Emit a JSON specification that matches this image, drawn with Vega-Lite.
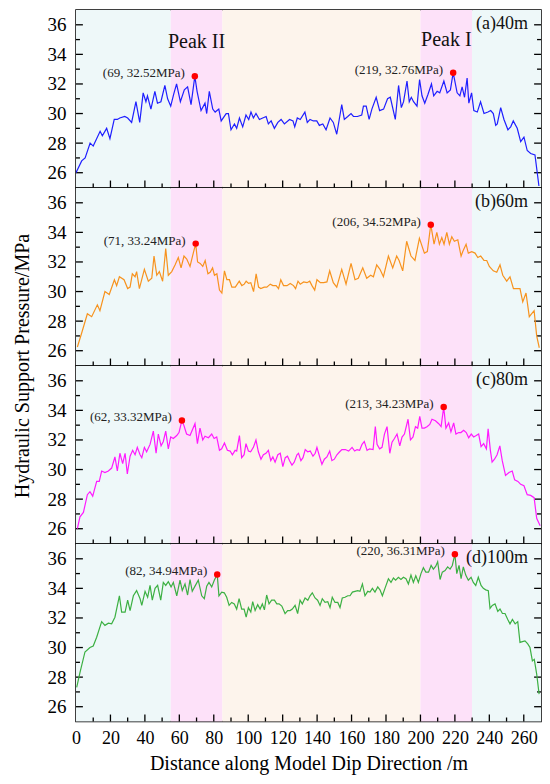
{
  "$schema": "https://vega.github.io/schema/vega-lite/v6.json",
  "background": "#ffffff",
  "padding": {"left": 11, "top": 9, "right": 0, "bottom": 0},
  "spacing": 0,
  "bounds": "flush",
  "datasets": {
    "bands": [
      {"x0": 0, "x1": 55, "zone": "side"},
      {"x0": 55, "x1": 85, "zone": "peak"},
      {"x0": 85, "x1": 200, "zone": "middle"},
      {"x0": 200, "x1": 230, "zone": "peak"},
      {"x0": 230, "x1": 270, "zone": "side"}
    ],
    "ymajor": [{"v": 26}, {"v": 28}, {"v": 30}, {"v": 32}, {"v": 34}, {"v": 36}],
    "yminor": [{"v": 27}, {"v": 29}, {"v": 31}, {"v": 33}, {"v": 35}],
    "xmajor": [{"v": 20}, {"v": 40}, {"v": 60}, {"v": 80}, {"v": 100}, {"v": 120}, {"v": 140}, {"v": 160}, {"v": 180}, {"v": 200}, {"v": 220}, {"v": 240}, {"v": 260}],
    "xminor": [{"v": 10}, {"v": 30}, {"v": 50}, {"v": 70}, {"v": 90}, {"v": 110}, {"v": 130}, {"v": 150}, {"v": 170}, {"v": 190}, {"v": 210}, {"v": 230}, {"v": 250}],
    "a": [
      {"x": 0, "p": 26.0}, {"x": 3.3, "p": 26.8}, {"x": 5.3, "p": 27.0}, {"x": 8.2, "p": 28.0}, {"x": 10, "p": 27.8},
      {"x": 14, "p": 28.8}, {"x": 15.3, "p": 28.5}, {"x": 17.8, "p": 29.0}, {"x": 19.7, "p": 28.3}, {"x": 22.2, "p": 29.6},
      {"x": 24, "p": 29.6}, {"x": 25.4, "p": 29.7}, {"x": 28.3, "p": 29.8}, {"x": 30, "p": 29.7}, {"x": 32.3, "p": 29.4},
      {"x": 34.8, "p": 30.8}, {"x": 37, "p": 29.4}, {"x": 39, "p": 31.4}, {"x": 40.6, "p": 30.8}, {"x": 41.5, "p": 31.2},
      {"x": 43.5, "p": 30.3}, {"x": 45.8, "p": 31.5}, {"x": 47.3, "p": 30.7}, {"x": 49.3, "p": 30.8}, {"x": 51.6, "p": 31.9},
      {"x": 53.2, "p": 31.0}, {"x": 55, "p": 30.5}, {"x": 56.7, "p": 31.3}, {"x": 58.4, "p": 32.0}, {"x": 60.6, "p": 30.8},
      {"x": 62.9, "p": 31.6}, {"x": 64.8, "p": 31.8}, {"x": 66.8, "p": 30.6}, {"x": 69, "p": 32.52}, {"x": 70.3, "p": 31.5},
      {"x": 72.6, "p": 30.2}, {"x": 74.9, "p": 30.7}, {"x": 75.9, "p": 30.0}, {"x": 77.4, "p": 31.5}, {"x": 79.4, "p": 30.3},
      {"x": 80.8, "p": 30.1}, {"x": 82.9, "p": 30.3}, {"x": 84.3, "p": 29.5}, {"x": 87.2, "p": 30.0}, {"x": 88.5, "p": 30.0},
      {"x": 90, "p": 28.9}, {"x": 92, "p": 29.3}, {"x": 93.3, "p": 29.0}, {"x": 94.9, "p": 29.7}, {"x": 96.8, "p": 29.1},
      {"x": 98.7, "p": 29.9}, {"x": 100.3, "p": 29.6}, {"x": 101.6, "p": 30.1}, {"x": 103, "p": 29.7}, {"x": 104.5, "p": 30.0},
      {"x": 106.5, "p": 29.6}, {"x": 108.4, "p": 29.7}, {"x": 110.4, "p": 29.8}, {"x": 111.7, "p": 29.3}, {"x": 113.3, "p": 29.5},
      {"x": 115.2, "p": 29.0}, {"x": 117.2, "p": 29.4}, {"x": 119.1, "p": 29.6}, {"x": 121, "p": 29.3}, {"x": 124, "p": 29.6},
      {"x": 126, "p": 29.5}, {"x": 127, "p": 29.1}, {"x": 128.5, "p": 29.7}, {"x": 130.2, "p": 29.6}, {"x": 132.9, "p": 30.1},
      {"x": 134.3, "p": 29.4}, {"x": 135.9, "p": 29.6}, {"x": 137.8, "p": 29.5}, {"x": 139.8, "p": 29.5}, {"x": 141.3, "p": 29.2},
      {"x": 143.3, "p": 29.3}, {"x": 145.2, "p": 28.9}, {"x": 147.5, "p": 29.7}, {"x": 149.4, "p": 29.4}, {"x": 151.4, "p": 28.6},
      {"x": 154.3, "p": 30.6}, {"x": 155.8, "p": 29.6}, {"x": 157.8, "p": 29.8}, {"x": 159.7, "p": 30.0}, {"x": 161.1, "p": 29.8},
      {"x": 163.4, "p": 29.8}, {"x": 165.9, "p": 29.9}, {"x": 166.9, "p": 30.5}, {"x": 168.5, "p": 30.5}, {"x": 170.2, "p": 29.6},
      {"x": 171.8, "p": 30.3}, {"x": 174.3, "p": 31.1}, {"x": 176.3, "p": 30.2}, {"x": 178.6, "p": 30.3}, {"x": 180.9, "p": 31.0},
      {"x": 182.5, "p": 31.1}, {"x": 185.4, "p": 29.6}, {"x": 187.3, "p": 31.9}, {"x": 188.9, "p": 30.4}, {"x": 190.2, "p": 30.8},
      {"x": 192.2, "p": 32.2}, {"x": 193.5, "p": 30.8}, {"x": 194.7, "p": 31.1}, {"x": 196, "p": 30.8}, {"x": 198, "p": 30.5},
      {"x": 199.5, "p": 32.3}, {"x": 200.9, "p": 31.2}, {"x": 202.5, "p": 30.7}, {"x": 204.4, "p": 31.3}, {"x": 206.4, "p": 32.0},
      {"x": 207.7, "p": 31.2}, {"x": 209.7, "p": 31.5}, {"x": 211.2, "p": 31.4}, {"x": 213.6, "p": 32.2}, {"x": 215.5, "p": 31.4},
      {"x": 217.4, "p": 31.6}, {"x": 219, "p": 32.76}, {"x": 221.3, "p": 31.4}, {"x": 222.9, "p": 31.2}, {"x": 224.2, "p": 31.8},
      {"x": 225.6, "p": 31.1}, {"x": 227.1, "p": 32.4}, {"x": 228.1, "p": 30.7}, {"x": 229.7, "p": 31.4}, {"x": 231, "p": 30.2},
      {"x": 233, "p": 30.1}, {"x": 234.9, "p": 30.8}, {"x": 236.9, "p": 30.0}, {"x": 239.2, "p": 30.1}, {"x": 240.8, "p": 30.2},
      {"x": 242.3, "p": 30.0}, {"x": 243.7, "p": 29.2}, {"x": 244.6, "p": 29.3}, {"x": 246.6, "p": 30.4}, {"x": 248.5, "p": 29.6},
      {"x": 250.8, "p": 28.9}, {"x": 252.4, "p": 29.1}, {"x": 253.9, "p": 29.5}, {"x": 256.2, "p": 29.0}, {"x": 258.2, "p": 28.1},
      {"x": 260.1, "p": 28.4}, {"x": 262, "p": 27.5}, {"x": 264, "p": 27.3}, {"x": 266.5, "p": 27.2}, {"x": 268.8, "p": 25.1}
    ],
    "b": [
      {"x": 0.8, "p": 26.25}, {"x": 3.3, "p": 27.2}, {"x": 6.6, "p": 28.5}, {"x": 9.1, "p": 28.3}, {"x": 12.4, "p": 29.1},
      {"x": 13.9, "p": 28.7}, {"x": 16.8, "p": 30.0}, {"x": 19.3, "p": 29.8}, {"x": 22.3, "p": 30.8}, {"x": 23.6, "p": 30.4},
      {"x": 25.2, "p": 31.0}, {"x": 27.9, "p": 30.8}, {"x": 30, "p": 30.2}, {"x": 31.4, "p": 30.3}, {"x": 32.7, "p": 31.2},
      {"x": 34.3, "p": 31.0}, {"x": 35.2, "p": 31.35}, {"x": 36.8, "p": 30.2}, {"x": 39.7, "p": 31.5}, {"x": 42, "p": 30.7},
      {"x": 44, "p": 30.9}, {"x": 45.3, "p": 32.4}, {"x": 46.9, "p": 31.1}, {"x": 48.4, "p": 31.35}, {"x": 50.3, "p": 30.7},
      {"x": 52.1, "p": 32.9}, {"x": 53.6, "p": 31.1}, {"x": 55.6, "p": 31.35}, {"x": 57.5, "p": 31.8}, {"x": 59.4, "p": 32.3},
      {"x": 61, "p": 31.6}, {"x": 62.7, "p": 32.4}, {"x": 64.3, "p": 32.2}, {"x": 66.2, "p": 31.7}, {"x": 68.1, "p": 32.6},
      {"x": 69.5, "p": 33.24}, {"x": 70.6, "p": 32.0}, {"x": 72.1, "p": 31.9}, {"x": 73.6, "p": 31.7}, {"x": 75, "p": 32.1},
      {"x": 76.6, "p": 31.2}, {"x": 77.9, "p": 31.3}, {"x": 79.3, "p": 31.6}, {"x": 80.4, "p": 31.1}, {"x": 81.8, "p": 31.2},
      {"x": 83.3, "p": 30.1}, {"x": 84.7, "p": 29.9}, {"x": 86.2, "p": 31.4}, {"x": 87.6, "p": 30.8}, {"x": 89.1, "p": 30.8},
      {"x": 90.5, "p": 30.3}, {"x": 92.5, "p": 30.3}, {"x": 94.8, "p": 30.7}, {"x": 96.3, "p": 30.4}, {"x": 97.7, "p": 30.5},
      {"x": 98.8, "p": 30.7}, {"x": 100.2, "p": 30.55}, {"x": 101.5, "p": 30.6}, {"x": 103.1, "p": 30.0}, {"x": 104.6, "p": 31.2},
      {"x": 106, "p": 30.3}, {"x": 107.3, "p": 30.2}, {"x": 109.3, "p": 30.3}, {"x": 110.8, "p": 30.3}, {"x": 112.8, "p": 30.5},
      {"x": 114.3, "p": 30.4}, {"x": 116.2, "p": 30.4}, {"x": 117.6, "p": 30.2}, {"x": 118.9, "p": 30.8}, {"x": 120.5, "p": 30.4},
      {"x": 122.5, "p": 30.4}, {"x": 124.4, "p": 30.55}, {"x": 126.3, "p": 30.4}, {"x": 127.5, "p": 30.2}, {"x": 128.9, "p": 30.7},
      {"x": 130.2, "p": 30.5}, {"x": 132.2, "p": 30.65}, {"x": 134.1, "p": 30.6}, {"x": 135.7, "p": 30.7}, {"x": 137, "p": 30.4},
      {"x": 138.6, "p": 30.1}, {"x": 139.9, "p": 30.8}, {"x": 141.9, "p": 30.6}, {"x": 143.8, "p": 30.6}, {"x": 145.7, "p": 30.65},
      {"x": 147.3, "p": 31.4}, {"x": 149.4, "p": 30.6}, {"x": 151.4, "p": 30.3}, {"x": 154.3, "p": 31.5}, {"x": 156.8, "p": 30.5},
      {"x": 159.7, "p": 31.9}, {"x": 162, "p": 30.8}, {"x": 163.9, "p": 30.9}, {"x": 166.5, "p": 31.6}, {"x": 168.8, "p": 30.9},
      {"x": 171.1, "p": 31.1}, {"x": 172.7, "p": 31.0}, {"x": 174.6, "p": 31.8}, {"x": 176.5, "p": 31.5}, {"x": 178.5, "p": 31.0},
      {"x": 181.4, "p": 32.4}, {"x": 183.9, "p": 31.6}, {"x": 186.2, "p": 32.4}, {"x": 187.6, "p": 32.1}, {"x": 189.7, "p": 31.4},
      {"x": 192, "p": 33.4}, {"x": 194.5, "p": 32.4}, {"x": 196.8, "p": 32.1}, {"x": 199.4, "p": 33.6}, {"x": 202.3, "p": 32.6},
      {"x": 204, "p": 32.7}, {"x": 206, "p": 34.52}, {"x": 207.9, "p": 33.2}, {"x": 209.5, "p": 34.0}, {"x": 211, "p": 33.2},
      {"x": 212.4, "p": 33.65}, {"x": 213.7, "p": 33.2}, {"x": 215.3, "p": 34.0}, {"x": 216.8, "p": 33.2}, {"x": 218.2, "p": 33.7},
      {"x": 219.7, "p": 33.4}, {"x": 221.7, "p": 33.5}, {"x": 223.6, "p": 32.4}, {"x": 224.9, "p": 32.8}, {"x": 226.5, "p": 33.2},
      {"x": 227.8, "p": 32.6}, {"x": 229.8, "p": 32.7}, {"x": 231.7, "p": 32.6}, {"x": 233.3, "p": 32.3}, {"x": 235, "p": 32.4},
      {"x": 236.9, "p": 32.1}, {"x": 238.5, "p": 32.1}, {"x": 240, "p": 31.7}, {"x": 242.3, "p": 31.4}, {"x": 244.3, "p": 31.3},
      {"x": 246.2, "p": 31.8}, {"x": 247.8, "p": 31.1}, {"x": 250.1, "p": 30.7}, {"x": 252, "p": 31.0}, {"x": 254, "p": 30.2},
      {"x": 255.9, "p": 30.2}, {"x": 257.8, "p": 30.2}, {"x": 259.4, "p": 29.3}, {"x": 261.3, "p": 29.9}, {"x": 263.2, "p": 28.3},
      {"x": 264.6, "p": 28.5}, {"x": 266, "p": 28.7}, {"x": 267.5, "p": 27.0}, {"x": 269, "p": 26.2}
    ],
    "c": [
      {"x": 0.8, "p": 26.0}, {"x": 2.3, "p": 26.8}, {"x": 4.3, "p": 27.1}, {"x": 6.6, "p": 28.3}, {"x": 8.1, "p": 28.5},
      {"x": 9.7, "p": 28.2}, {"x": 12, "p": 29.2}, {"x": 13.5, "p": 29.2}, {"x": 14.9, "p": 29.9}, {"x": 16.8, "p": 29.8},
      {"x": 18.8, "p": 29.9}, {"x": 20.7, "p": 30.1}, {"x": 22.6, "p": 30.85}, {"x": 24, "p": 29.9}, {"x": 25.5, "p": 31.1},
      {"x": 27.1, "p": 30.4}, {"x": 28.5, "p": 31.1}, {"x": 29.8, "p": 29.7}, {"x": 31.4, "p": 30.9}, {"x": 32.9, "p": 31.3},
      {"x": 34.3, "p": 31.0}, {"x": 35.6, "p": 31.5}, {"x": 37.2, "p": 31.0}, {"x": 38.2, "p": 30.8}, {"x": 39.7, "p": 31.5},
      {"x": 41, "p": 31.2}, {"x": 43, "p": 31.7}, {"x": 44.9, "p": 32.6}, {"x": 46.5, "p": 31.1}, {"x": 47.8, "p": 32.4},
      {"x": 49.4, "p": 31.6}, {"x": 50.7, "p": 31.9}, {"x": 52.1, "p": 32.6}, {"x": 53.6, "p": 31.4}, {"x": 55, "p": 32.2},
      {"x": 56.5, "p": 32.1}, {"x": 58.5, "p": 32.3}, {"x": 59.8, "p": 32.5}, {"x": 61.5, "p": 33.32}, {"x": 62.6, "p": 33.0},
      {"x": 64.2, "p": 32.4}, {"x": 66.2, "p": 32.3}, {"x": 69.1, "p": 33.1}, {"x": 70.5, "p": 31.75}, {"x": 72, "p": 32.8},
      {"x": 73.6, "p": 32.0}, {"x": 74.9, "p": 32.25}, {"x": 76.9, "p": 32.15}, {"x": 78.8, "p": 32.4}, {"x": 80.2, "p": 32.1},
      {"x": 81.7, "p": 32.2}, {"x": 83.3, "p": 31.3}, {"x": 84.6, "p": 31.4}, {"x": 86.2, "p": 31.8}, {"x": 87.9, "p": 31.3},
      {"x": 89.5, "p": 31.25}, {"x": 90.8, "p": 31.0}, {"x": 92.4, "p": 31.3}, {"x": 93.3, "p": 31.25}, {"x": 94.9, "p": 32.3},
      {"x": 96.2, "p": 30.8}, {"x": 97.6, "p": 31.0}, {"x": 98.7, "p": 31.75}, {"x": 100.1, "p": 31.25}, {"x": 101.4, "p": 31.2},
      {"x": 103, "p": 31.5}, {"x": 104.5, "p": 32.0}, {"x": 105.9, "p": 31.2}, {"x": 107.4, "p": 30.7}, {"x": 108.8, "p": 31.0},
      {"x": 110.3, "p": 31.1}, {"x": 111.7, "p": 31.3}, {"x": 113.1, "p": 30.6}, {"x": 114.3, "p": 30.85}, {"x": 115.6, "p": 30.5},
      {"x": 117.2, "p": 31.0}, {"x": 118.6, "p": 31.1}, {"x": 120.1, "p": 30.2}, {"x": 121.5, "p": 30.8}, {"x": 122.8, "p": 30.9},
      {"x": 124, "p": 30.6}, {"x": 125.4, "p": 30.3}, {"x": 126.7, "p": 30.5}, {"x": 128.3, "p": 31.0}, {"x": 129.2, "p": 31.1},
      {"x": 130.6, "p": 30.6}, {"x": 131.8, "p": 30.8}, {"x": 133.1, "p": 31.35}, {"x": 134.5, "p": 31.2}, {"x": 136, "p": 31.25},
      {"x": 137.6, "p": 30.9}, {"x": 138.9, "p": 31.1}, {"x": 139.9, "p": 31.5}, {"x": 141.5, "p": 30.85}, {"x": 142.8, "p": 30.35},
      {"x": 144.2, "p": 30.7}, {"x": 145.7, "p": 30.85}, {"x": 147.3, "p": 31.25}, {"x": 148.6, "p": 30.6}, {"x": 150, "p": 30.7},
      {"x": 151.5, "p": 31.0}, {"x": 153.1, "p": 31.2}, {"x": 154.4, "p": 31.35}, {"x": 156.4, "p": 31.35}, {"x": 158.3, "p": 31.25},
      {"x": 160.3, "p": 31.5}, {"x": 161.8, "p": 31.25}, {"x": 163.2, "p": 31.35}, {"x": 164.7, "p": 31.3}, {"x": 166.1, "p": 31.7},
      {"x": 167.4, "p": 31.9}, {"x": 169, "p": 31.3}, {"x": 170.5, "p": 31.4}, {"x": 172.5, "p": 31.35}, {"x": 173.8, "p": 32.9},
      {"x": 174.8, "p": 31.7}, {"x": 176.3, "p": 31.4}, {"x": 177.7, "p": 31.5}, {"x": 179.1, "p": 32.4}, {"x": 180.6, "p": 32.9},
      {"x": 182.2, "p": 31.1}, {"x": 183.5, "p": 31.85}, {"x": 184.9, "p": 32.1}, {"x": 186.4, "p": 32.4}, {"x": 188, "p": 31.6},
      {"x": 189.3, "p": 32.2}, {"x": 190.7, "p": 32.4}, {"x": 192.8, "p": 33.4}, {"x": 194.2, "p": 32.0}, {"x": 195.7, "p": 32.2},
      {"x": 197.1, "p": 32.9}, {"x": 198.4, "p": 32.8}, {"x": 199.6, "p": 33.6}, {"x": 200.9, "p": 32.8}, {"x": 202.3, "p": 32.8},
      {"x": 203.8, "p": 32.9}, {"x": 205.4, "p": 33.05}, {"x": 206.7, "p": 33.4}, {"x": 208.7, "p": 33.3}, {"x": 210.6, "p": 33.1},
      {"x": 212, "p": 32.9}, {"x": 213.5, "p": 34.23}, {"x": 214.8, "p": 32.8}, {"x": 216.4, "p": 33.15}, {"x": 217.7, "p": 32.55},
      {"x": 219.3, "p": 33.15}, {"x": 220.6, "p": 32.4}, {"x": 222.2, "p": 32.5}, {"x": 223.5, "p": 32.5}, {"x": 225.1, "p": 32.65},
      {"x": 226.6, "p": 32.5}, {"x": 228, "p": 32.15}, {"x": 229.5, "p": 32.4}, {"x": 230.9, "p": 32.2}, {"x": 232.4, "p": 32.3},
      {"x": 233.8, "p": 32.4}, {"x": 235.2, "p": 31.55}, {"x": 236.7, "p": 31.75}, {"x": 238.3, "p": 31.4}, {"x": 239.3, "p": 32.75},
      {"x": 240.6, "p": 31.3}, {"x": 241.6, "p": 30.5}, {"x": 243, "p": 30.7}, {"x": 244.5, "p": 31.0}, {"x": 246.1, "p": 31.6},
      {"x": 247.5, "p": 30.6}, {"x": 249.4, "p": 29.6}, {"x": 251.4, "p": 29.8}, {"x": 253.3, "p": 29.9}, {"x": 254.7, "p": 29.3},
      {"x": 256.6, "p": 29.2}, {"x": 258.2, "p": 29.0}, {"x": 260.1, "p": 28.9}, {"x": 262, "p": 28.3}, {"x": 264, "p": 28.25},
      {"x": 266, "p": 28.1}, {"x": 267.5, "p": 26.7}, {"x": 269.5, "p": 26.2}
    ],
    "d": [
      {"x": 0.4, "p": 27.3}, {"x": 2.3, "p": 28.3}, {"x": 5.2, "p": 29.7}, {"x": 8.1, "p": 30.0}, {"x": 10, "p": 30.1},
      {"x": 12, "p": 30.7}, {"x": 14.9, "p": 31.75}, {"x": 16.8, "p": 31.5}, {"x": 18.8, "p": 31.65}, {"x": 20.7, "p": 31.6},
      {"x": 22.6, "p": 32.05}, {"x": 25.2, "p": 33.5}, {"x": 26.5, "p": 32.4}, {"x": 28.5, "p": 32.4}, {"x": 30, "p": 33.2},
      {"x": 31.4, "p": 32.5}, {"x": 33.3, "p": 33.5}, {"x": 35.2, "p": 33.85}, {"x": 37.2, "p": 33.3}, {"x": 38.2, "p": 32.85},
      {"x": 40.1, "p": 33.8}, {"x": 41.6, "p": 33.4}, {"x": 43, "p": 34.2}, {"x": 44.3, "p": 33.2}, {"x": 45.9, "p": 34.0},
      {"x": 47.4, "p": 34.2}, {"x": 49.2, "p": 33.2}, {"x": 50.7, "p": 34.4}, {"x": 52.1, "p": 34.2}, {"x": 53.6, "p": 34.45},
      {"x": 55.2, "p": 34.1}, {"x": 56.5, "p": 34.4}, {"x": 58.5, "p": 33.5}, {"x": 60.4, "p": 34.55}, {"x": 61.7, "p": 33.85},
      {"x": 63.3, "p": 34.3}, {"x": 64.8, "p": 33.55}, {"x": 66.2, "p": 34.6}, {"x": 67.5, "p": 33.8}, {"x": 69.1, "p": 34.15},
      {"x": 71, "p": 34.55}, {"x": 73, "p": 33.5}, {"x": 74.5, "p": 33.3}, {"x": 75.9, "p": 34.15}, {"x": 77.2, "p": 34.4},
      {"x": 78.8, "p": 34.1}, {"x": 80.3, "p": 34.55}, {"x": 82, "p": 34.94}, {"x": 83, "p": 33.5}, {"x": 84.6, "p": 33.75},
      {"x": 86.1, "p": 33.7}, {"x": 87.5, "p": 33.4}, {"x": 88.9, "p": 32.85}, {"x": 90.4, "p": 33.05}, {"x": 91.9, "p": 32.95},
      {"x": 93.3, "p": 32.6}, {"x": 94.7, "p": 33.3}, {"x": 96.2, "p": 32.6}, {"x": 97.6, "p": 32.6}, {"x": 98.8, "p": 32.05},
      {"x": 100.1, "p": 32.7}, {"x": 101.5, "p": 32.4}, {"x": 102.6, "p": 33.1}, {"x": 104, "p": 32.5}, {"x": 105.5, "p": 32.9},
      {"x": 106.9, "p": 32.6}, {"x": 108.2, "p": 32.95}, {"x": 109.4, "p": 32.55}, {"x": 110.7, "p": 33.55}, {"x": 112.1, "p": 32.95},
      {"x": 113.6, "p": 33.2}, {"x": 115.2, "p": 33.2}, {"x": 116.6, "p": 32.95}, {"x": 117.9, "p": 32.95}, {"x": 119.5, "p": 32.8},
      {"x": 121.4, "p": 32.3}, {"x": 122.9, "p": 32.5}, {"x": 124.3, "p": 32.5}, {"x": 125.6, "p": 32.6}, {"x": 127.2, "p": 32.85},
      {"x": 128.7, "p": 32.3}, {"x": 130.1, "p": 33.2}, {"x": 131.4, "p": 32.95}, {"x": 133, "p": 33.35}, {"x": 134.6, "p": 33.2},
      {"x": 135.9, "p": 33.5}, {"x": 137.2, "p": 33.7}, {"x": 138.8, "p": 33.35}, {"x": 140.3, "p": 33.2}, {"x": 141.7, "p": 32.85},
      {"x": 143, "p": 33.3}, {"x": 144.6, "p": 33.05}, {"x": 146.2, "p": 33.1}, {"x": 147.5, "p": 32.7}, {"x": 148.8, "p": 33.4},
      {"x": 150.4, "p": 33.05}, {"x": 152, "p": 33.05}, {"x": 153.3, "p": 32.7}, {"x": 154.6, "p": 33.35}, {"x": 156.2, "p": 33.4},
      {"x": 157.8, "p": 33.5}, {"x": 159.1, "p": 33.5}, {"x": 160.5, "p": 33.75}, {"x": 162, "p": 33.8}, {"x": 163.6, "p": 33.85},
      {"x": 164.9, "p": 33.8}, {"x": 166.3, "p": 34.3}, {"x": 167.8, "p": 33.5}, {"x": 169.4, "p": 33.8}, {"x": 170.7, "p": 33.75},
      {"x": 172.1, "p": 34.0}, {"x": 173.6, "p": 33.75}, {"x": 175.2, "p": 34.1}, {"x": 176.5, "p": 33.9}, {"x": 177.9, "p": 33.5},
      {"x": 179.4, "p": 34.0}, {"x": 181.4, "p": 34.65}, {"x": 182.9, "p": 34.4}, {"x": 184.3, "p": 34.7}, {"x": 185.6, "p": 34.55},
      {"x": 187.2, "p": 34.75}, {"x": 188.7, "p": 34.6}, {"x": 190.1, "p": 34.75}, {"x": 191.6, "p": 34.65}, {"x": 193, "p": 34.3},
      {"x": 194.5, "p": 34.9}, {"x": 195.9, "p": 34.4}, {"x": 197.3, "p": 34.85}, {"x": 198.8, "p": 34.4}, {"x": 200.3, "p": 35.0},
      {"x": 201.7, "p": 35.4}, {"x": 203.1, "p": 35.1}, {"x": 204.7, "p": 35.1}, {"x": 206.2, "p": 35.55}, {"x": 207.5, "p": 35.3},
      {"x": 208.9, "p": 35.5}, {"x": 210, "p": 35.8}, {"x": 211.4, "p": 34.6}, {"x": 212.7, "p": 35.1}, {"x": 214.3, "p": 35.2},
      {"x": 215.8, "p": 35.45}, {"x": 217.2, "p": 35.3}, {"x": 218.5, "p": 35.55}, {"x": 220, "p": 36.31}, {"x": 221.1, "p": 35.0},
      {"x": 222.4, "p": 35.55}, {"x": 223.6, "p": 34.65}, {"x": 224.9, "p": 35.45}, {"x": 226.3, "p": 34.9}, {"x": 227.8, "p": 34.55},
      {"x": 229.4, "p": 34.75}, {"x": 230.7, "p": 34.4}, {"x": 232.1, "p": 34.2}, {"x": 233.6, "p": 34.75}, {"x": 235.2, "p": 34.2},
      {"x": 236.5, "p": 34.0}, {"x": 237.9, "p": 33.9}, {"x": 239.4, "p": 33.85}, {"x": 240.4, "p": 32.65}, {"x": 241.7, "p": 32.85},
      {"x": 243.3, "p": 32.95}, {"x": 244.9, "p": 32.45}, {"x": 246.2, "p": 32.6}, {"x": 247.6, "p": 32.3}, {"x": 249.1, "p": 32.3},
      {"x": 250.7, "p": 31.9}, {"x": 252, "p": 31.6}, {"x": 253.4, "p": 31.9}, {"x": 255, "p": 31.6}, {"x": 256.5, "p": 31.75},
      {"x": 257.8, "p": 30.35}, {"x": 259.2, "p": 30.4}, {"x": 260.7, "p": 30.45}, {"x": 262.3, "p": 30.25}, {"x": 263.6, "p": 30.0},
      {"x": 265, "p": 29.1}, {"x": 266.1, "p": 29.2}, {"x": 267.5, "p": 28.2}, {"x": 268.9, "p": 26.85}
    ],
    "peaks": [
      {"s": "a", "x": 69, "p": 32.52, "label": "(69, 32.52MPa)"},
      {"s": "a", "x": 219, "p": 32.76, "label": "(219, 32.76MPa)"},
      {"s": "b", "x": 69.5, "p": 33.24, "label": "(71, 33.24MPa)"},
      {"s": "b", "x": 206, "p": 34.52, "label": "(206, 34.52MPa)"},
      {"s": "c", "x": 61.5, "p": 33.32, "label": "(62, 33.32MPa)"},
      {"s": "c", "x": 213.5, "p": 34.23, "label": "(213, 34.23MPa)"},
      {"s": "d", "x": 82, "p": 34.94, "label": "(82, 34.94MPa)"},
      {"s": "d", "x": 220, "p": 36.31, "label": "(220, 36.31MPa)"}
    ],
    "tags": [
      {"s": "a", "x": 262.5, "y": 36.05, "text": "(a)40m"},
      {"s": "b", "x": 262.5, "y": 36.05, "text": "(b)60m"},
      {"s": "c", "x": 262.5, "y": 36.05, "text": "(c)80m"},
      {"s": "d", "x": 262.5, "y": 36.05, "text": "(d)100m"}
    ],
    "zones": [
      {"x": 70, "y": 34.85, "text": "Peak II"},
      {"x": 215, "y": 34.95, "text": "Peak I"}
    ]
  },
  "config": {
    "font": "Liberation Serif",
    "view": {"stroke": "#000000", "strokeWidth": 1.5},
    "text": {"font": "Liberation Serif"},
    "rule": {"color": "#000000", "strokeWidth": 1.3},
    "axis": {
      "labelFont": "Liberation Serif",
      "titleFont": "Liberation Serif",
      "labelColor": "#000000",
      "titleColor": "#000000",
      "titleFontWeight": "normal",
      "grid": false,
      "domain": false,
      "ticks": false,
      "labelFlush": false,
      "labelOverlap": false
    }
  },
  "vconcat": [
    {
      "width": 465,
      "height": 177.5,
      "layer": [
        {
          "data": {"name": "bands"},
          "mark": {"type": "rect"},
          "encoding": {
            "x": {"field": "x0", "type": "quantitative", "scale": {"domain": [0, 270], "nice": false, "zero": false}, "axis": null},
            "x2": {"field": "x1"},
            "color": {"field": "zone", "type": "nominal", "scale": {"domain": ["side", "peak", "middle"], "range": ["#eef8f9", "#fde1f9", "#fdf4ec"]}, "legend": null}
          }
        },
        {"data": {"name": "ymajor"}, "mark": {"type": "rule", "color": "#000000", "strokeWidth": 1.3},
          "encoding": {"x": {"datum": 0, "type": "quantitative", "axis": null}, "x2": {"datum": 4}, "y": {"field": "v", "type": "quantitative", "axis": null}}},
        {"data": {"name": "ymajor"}, "mark": {"type": "rule", "color": "#000000", "strokeWidth": 1.3},
          "encoding": {"x": {"datum": 266, "type": "quantitative", "axis": null}, "x2": {"datum": 270}, "y": {"field": "v", "type": "quantitative", "axis": null}}},
        {"data": {"name": "yminor"}, "mark": {"type": "rule", "color": "#000000", "strokeWidth": 1.3},
          "encoding": {"x": {"datum": 0, "type": "quantitative", "axis": null}, "x2": {"datum": 2.3}, "y": {"field": "v", "type": "quantitative", "axis": null}}},
        {"data": {"name": "yminor"}, "mark": {"type": "rule", "color": "#000000", "strokeWidth": 1.3},
          "encoding": {"x": {"datum": 267.7, "type": "quantitative", "axis": null}, "x2": {"datum": 270}, "y": {"field": "v", "type": "quantitative", "axis": null}}},
        {"data": {"name": "xmajor"}, "mark": {"type": "rule", "color": "#000000", "strokeWidth": 1.3},
          "encoding": {"x": {"field": "v", "type": "quantitative", "axis": null}, "y": {"datum": 25, "type": "quantitative", "axis": null}, "y2": {"datum": 25.47}}},
        {"data": {"name": "xminor"}, "mark": {"type": "rule", "color": "#000000", "strokeWidth": 1.3},
          "encoding": {"x": {"field": "v", "type": "quantitative", "axis": null}, "y": {"datum": 25, "type": "quantitative", "axis": null}, "y2": {"datum": 25.27}}},
        {
          "data": {"name": "a"},
          "mark": {"type": "line", "color": "#1f1fff", "strokeWidth": 1.2, "clip": true},
          "encoding": {
            "x": {"field": "x", "type": "quantitative", "axis": null},
            "y": {"field": "p", "type": "quantitative", "scale": {"domain": [25, 37], "nice": false, "zero": false},
              "axis": {"orient": "left", "values": [26, 28, 30, 32, 34, 36], "ticks": false, "domain": false,
                "labelFont": "Liberation Serif", "labelFontSize": 19, "labelPadding": 10, "title": null}}
          }
        },
        {
          "data": {"name": "peaks"},
          "transform": [{"filter": "datum.s === 'a'"}],
          "mark": {"type": "circle", "color": "#ff0000", "size": 42, "opacity": 1},
          "encoding": {
            "x": {"field": "x", "type": "quantitative", "axis": null},
            "y": {"field": "p", "type": "quantitative", "axis": null}
          }
        },
        {
          "data": {"name": "peaks"},
          "transform": [{"filter": "datum.s === 'a'"}],
          "mark": {"type": "text", "align": "right", "baseline": "middle", "dx": -10, "dy": -3, "fontSize": 13, "font": "Liberation Serif", "color": "#222222"},
          "encoding": {
            "x": {"field": "x", "type": "quantitative", "axis": null},
            "y": {"field": "p", "type": "quantitative", "axis": null},
            "text": {"field": "label"}
          }
        },
        {
          "data": {"name": "tags"},
          "transform": [{"filter": "datum.s === 'a'"}],
          "mark": {"type": "text", "align": "right", "baseline": "middle", "fontSize": 18, "font": "Liberation Serif", "color": "#111111"},
          "encoding": {
            "x": {"field": "x", "type": "quantitative", "axis": null},
            "y": {"field": "y", "type": "quantitative", "axis": null},
            "text": {"field": "text"}
          }
        },
        {
          "data": {"name": "zones"},
          "mark": {"type": "text", "align": "center", "baseline": "middle", "fontSize": 20, "font": "Liberation Serif", "color": "#111111"},
          "encoding": {
            "x": {"field": "x", "type": "quantitative", "axis": null},
            "y": {"field": "y", "type": "quantitative", "axis": null},
            "text": {"field": "text"}
          }
        }
      ],
      "resolve": {"axis": {"x": "independent", "y": "independent"}}
    },
    {
      "width": 465,
      "height": 177.5,
      "layer": [
        {
          "data": {"name": "bands"},
          "mark": {"type": "rect"},
          "encoding": {
            "x": {"field": "x0", "type": "quantitative", "scale": {"domain": [0, 270], "nice": false, "zero": false}, "axis": null},
            "x2": {"field": "x1"},
            "color": {"field": "zone", "type": "nominal", "scale": {"domain": ["side", "peak", "middle"], "range": ["#eef8f9", "#fde1f9", "#fdf4ec"]}, "legend": null}
          }
        },
        {"data": {"name": "ymajor"}, "mark": {"type": "rule", "color": "#000000", "strokeWidth": 1.3},
          "encoding": {"x": {"datum": 0, "type": "quantitative", "axis": null}, "x2": {"datum": 4}, "y": {"field": "v", "type": "quantitative", "axis": null}}},
        {"data": {"name": "ymajor"}, "mark": {"type": "rule", "color": "#000000", "strokeWidth": 1.3},
          "encoding": {"x": {"datum": 266, "type": "quantitative", "axis": null}, "x2": {"datum": 270}, "y": {"field": "v", "type": "quantitative", "axis": null}}},
        {"data": {"name": "yminor"}, "mark": {"type": "rule", "color": "#000000", "strokeWidth": 1.3},
          "encoding": {"x": {"datum": 0, "type": "quantitative", "axis": null}, "x2": {"datum": 2.3}, "y": {"field": "v", "type": "quantitative", "axis": null}}},
        {"data": {"name": "yminor"}, "mark": {"type": "rule", "color": "#000000", "strokeWidth": 1.3},
          "encoding": {"x": {"datum": 267.7, "type": "quantitative", "axis": null}, "x2": {"datum": 270}, "y": {"field": "v", "type": "quantitative", "axis": null}}},
        {"data": {"name": "xmajor"}, "mark": {"type": "rule", "color": "#000000", "strokeWidth": 1.3},
          "encoding": {"x": {"field": "v", "type": "quantitative", "axis": null}, "y": {"datum": 25, "type": "quantitative", "axis": null}, "y2": {"datum": 25.47}}},
        {"data": {"name": "xminor"}, "mark": {"type": "rule", "color": "#000000", "strokeWidth": 1.3},
          "encoding": {"x": {"field": "v", "type": "quantitative", "axis": null}, "y": {"datum": 25, "type": "quantitative", "axis": null}, "y2": {"datum": 25.27}}},
        {
          "data": {"name": "b"},
          "mark": {"type": "line", "color": "#f7931e", "strokeWidth": 1.2, "clip": true},
          "encoding": {
            "x": {"field": "x", "type": "quantitative", "axis": null},
            "y": {"field": "p", "type": "quantitative", "scale": {"domain": [25, 37], "nice": false, "zero": false},
              "axis": {"orient": "left", "values": [26, 28, 30, 32, 34, 36], "ticks": false, "domain": false,
                "labelFont": "Liberation Serif", "labelFontSize": 19, "labelPadding": 10,
                "title": "Hydraulic Support Pressure/MPa", "titleFont": "Liberation Serif", "titleFontSize": 20, "titleAngle": 270, "titleX": -54, "titleY": 177.5,
                "titleAlign": "center", "titleBaseline": "middle"}}
          }
        },
        {
          "data": {"name": "peaks"},
          "transform": [{"filter": "datum.s === 'b'"}],
          "mark": {"type": "circle", "color": "#ff0000", "size": 42, "opacity": 1},
          "encoding": {
            "x": {"field": "x", "type": "quantitative", "axis": null},
            "y": {"field": "p", "type": "quantitative", "axis": null}
          }
        },
        {
          "data": {"name": "peaks"},
          "transform": [{"filter": "datum.s === 'b'"}],
          "mark": {"type": "text", "align": "right", "baseline": "middle", "dx": -10, "dy": -3, "fontSize": 13, "font": "Liberation Serif", "color": "#222222"},
          "encoding": {
            "x": {"field": "x", "type": "quantitative", "axis": null},
            "y": {"field": "p", "type": "quantitative", "axis": null},
            "text": {"field": "label"}
          }
        },
        {
          "data": {"name": "tags"},
          "transform": [{"filter": "datum.s === 'b'"}],
          "mark": {"type": "text", "align": "right", "baseline": "middle", "fontSize": 18, "font": "Liberation Serif", "color": "#111111"},
          "encoding": {
            "x": {"field": "x", "type": "quantitative", "axis": null},
            "y": {"field": "y", "type": "quantitative", "axis": null},
            "text": {"field": "text"}
          }
        }
      ],
      "resolve": {"axis": {"x": "independent", "y": "independent"}}
    },
    {
      "width": 465,
      "height": 177.5,
      "layer": [
        {
          "data": {"name": "bands"},
          "mark": {"type": "rect"},
          "encoding": {
            "x": {"field": "x0", "type": "quantitative", "scale": {"domain": [0, 270], "nice": false, "zero": false}, "axis": null},
            "x2": {"field": "x1"},
            "color": {"field": "zone", "type": "nominal", "scale": {"domain": ["side", "peak", "middle"], "range": ["#eef8f9", "#fde1f9", "#fdf4ec"]}, "legend": null}
          }
        },
        {"data": {"name": "ymajor"}, "mark": {"type": "rule", "color": "#000000", "strokeWidth": 1.3},
          "encoding": {"x": {"datum": 0, "type": "quantitative", "axis": null}, "x2": {"datum": 4}, "y": {"field": "v", "type": "quantitative", "axis": null}}},
        {"data": {"name": "ymajor"}, "mark": {"type": "rule", "color": "#000000", "strokeWidth": 1.3},
          "encoding": {"x": {"datum": 266, "type": "quantitative", "axis": null}, "x2": {"datum": 270}, "y": {"field": "v", "type": "quantitative", "axis": null}}},
        {"data": {"name": "yminor"}, "mark": {"type": "rule", "color": "#000000", "strokeWidth": 1.3},
          "encoding": {"x": {"datum": 0, "type": "quantitative", "axis": null}, "x2": {"datum": 2.3}, "y": {"field": "v", "type": "quantitative", "axis": null}}},
        {"data": {"name": "yminor"}, "mark": {"type": "rule", "color": "#000000", "strokeWidth": 1.3},
          "encoding": {"x": {"datum": 267.7, "type": "quantitative", "axis": null}, "x2": {"datum": 270}, "y": {"field": "v", "type": "quantitative", "axis": null}}},
        {"data": {"name": "xmajor"}, "mark": {"type": "rule", "color": "#000000", "strokeWidth": 1.3},
          "encoding": {"x": {"field": "v", "type": "quantitative", "axis": null}, "y": {"datum": 25, "type": "quantitative", "axis": null}, "y2": {"datum": 25.47}}},
        {"data": {"name": "xminor"}, "mark": {"type": "rule", "color": "#000000", "strokeWidth": 1.3},
          "encoding": {"x": {"field": "v", "type": "quantitative", "axis": null}, "y": {"datum": 25, "type": "quantitative", "axis": null}, "y2": {"datum": 25.27}}},
        {
          "data": {"name": "c"},
          "mark": {"type": "line", "color": "#ff1aff", "strokeWidth": 1.2, "clip": true},
          "encoding": {
            "x": {"field": "x", "type": "quantitative", "axis": null},
            "y": {"field": "p", "type": "quantitative", "scale": {"domain": [25, 37], "nice": false, "zero": false},
              "axis": {"orient": "left", "values": [26, 28, 30, 32, 34, 36], "ticks": false, "domain": false,
                "labelFont": "Liberation Serif", "labelFontSize": 19, "labelPadding": 10, "title": null}}
          }
        },
        {
          "data": {"name": "peaks"},
          "transform": [{"filter": "datum.s === 'c'"}],
          "mark": {"type": "circle", "color": "#ff0000", "size": 42, "opacity": 1},
          "encoding": {
            "x": {"field": "x", "type": "quantitative", "axis": null},
            "y": {"field": "p", "type": "quantitative", "axis": null}
          }
        },
        {
          "data": {"name": "peaks"},
          "transform": [{"filter": "datum.s === 'c'"}],
          "mark": {"type": "text", "align": "right", "baseline": "middle", "dx": -10, "dy": -3, "fontSize": 13, "font": "Liberation Serif", "color": "#222222"},
          "encoding": {
            "x": {"field": "x", "type": "quantitative", "axis": null},
            "y": {"field": "p", "type": "quantitative", "axis": null},
            "text": {"field": "label"}
          }
        },
        {
          "data": {"name": "tags"},
          "transform": [{"filter": "datum.s === 'c'"}],
          "mark": {"type": "text", "align": "right", "baseline": "middle", "fontSize": 18, "font": "Liberation Serif", "color": "#111111"},
          "encoding": {
            "x": {"field": "x", "type": "quantitative", "axis": null},
            "y": {"field": "y", "type": "quantitative", "axis": null},
            "text": {"field": "text"}
          }
        }
      ],
      "resolve": {"axis": {"x": "independent", "y": "independent"}}
    },
    {
      "width": 465,
      "height": 177.5,
      "layer": [
        {
          "data": {"name": "bands"},
          "mark": {"type": "rect"},
          "encoding": {
            "x": {"field": "x0", "type": "quantitative", "scale": {"domain": [0, 270], "nice": false, "zero": false}, "axis": null},
            "x2": {"field": "x1"},
            "color": {"field": "zone", "type": "nominal", "scale": {"domain": ["side", "peak", "middle"], "range": ["#eef8f9", "#fde1f9", "#fdf4ec"]}, "legend": null}
          }
        },
        {"data": {"name": "ymajor"}, "mark": {"type": "rule", "color": "#000000", "strokeWidth": 1.3},
          "encoding": {"x": {"datum": 0, "type": "quantitative", "axis": null}, "x2": {"datum": 4}, "y": {"field": "v", "type": "quantitative", "axis": null}}},
        {"data": {"name": "ymajor"}, "mark": {"type": "rule", "color": "#000000", "strokeWidth": 1.3},
          "encoding": {"x": {"datum": 266, "type": "quantitative", "axis": null}, "x2": {"datum": 270}, "y": {"field": "v", "type": "quantitative", "axis": null}}},
        {"data": {"name": "yminor"}, "mark": {"type": "rule", "color": "#000000", "strokeWidth": 1.3},
          "encoding": {"x": {"datum": 0, "type": "quantitative", "axis": null}, "x2": {"datum": 2.3}, "y": {"field": "v", "type": "quantitative", "axis": null}}},
        {"data": {"name": "yminor"}, "mark": {"type": "rule", "color": "#000000", "strokeWidth": 1.3},
          "encoding": {"x": {"datum": 267.7, "type": "quantitative", "axis": null}, "x2": {"datum": 270}, "y": {"field": "v", "type": "quantitative", "axis": null}}},
        {"data": {"name": "xmajor"}, "mark": {"type": "rule", "color": "#000000", "strokeWidth": 1.3},
          "encoding": {"x": {"field": "v", "type": "quantitative", "axis": null}, "y": {"datum": 25, "type": "quantitative", "axis": null}, "y2": {"datum": 25.47}}},
        {"data": {"name": "xminor"}, "mark": {"type": "rule", "color": "#000000", "strokeWidth": 1.3},
          "encoding": {"x": {"field": "v", "type": "quantitative", "axis": null}, "y": {"datum": 25, "type": "quantitative", "axis": null}, "y2": {"datum": 25.27}}},
        {
          "data": {"name": "d"},
          "mark": {"type": "line", "color": "#3cb043", "strokeWidth": 1.2, "clip": true},
          "encoding": {
            "x": {"field": "x", "type": "quantitative",
              "axis": {"orient": "bottom", "values": [0, 20, 40, 60, 80, 100, 120, 140, 160, 180, 200, 220, 240, 260], "ticks": false, "domain": false,
                "labelFont": "Liberation Serif", "labelFontSize": 18, "labelPadding": 8,
                "title": "Distance along Model Dip Direction /m", "titleFont": "Liberation Serif", "titleFontSize": 20, "titlePadding": 6}},
            "y": {"field": "p", "type": "quantitative", "scale": {"domain": [25, 37], "nice": false, "zero": false},
              "axis": {"orient": "left", "values": [26, 28, 30, 32, 34, 36], "ticks": false, "domain": false,
                "labelFont": "Liberation Serif", "labelFontSize": 19, "labelPadding": 10, "title": null}}
          }
        },
        {
          "data": {"name": "peaks"},
          "transform": [{"filter": "datum.s === 'd'"}],
          "mark": {"type": "circle", "color": "#ff0000", "size": 42, "opacity": 1},
          "encoding": {
            "x": {"field": "x", "type": "quantitative", "axis": null},
            "y": {"field": "p", "type": "quantitative", "axis": null}
          }
        },
        {
          "data": {"name": "peaks"},
          "transform": [{"filter": "datum.s === 'd'"}],
          "mark": {"type": "text", "align": "right", "baseline": "middle", "dx": -10, "dy": -3, "fontSize": 13, "font": "Liberation Serif", "color": "#222222"},
          "encoding": {
            "x": {"field": "x", "type": "quantitative", "axis": null},
            "y": {"field": "p", "type": "quantitative", "axis": null},
            "text": {"field": "label"}
          }
        },
        {
          "data": {"name": "tags"},
          "transform": [{"filter": "datum.s === 'd'"}],
          "mark": {"type": "text", "align": "right", "baseline": "middle", "fontSize": 18, "font": "Liberation Serif", "color": "#111111"},
          "encoding": {
            "x": {"field": "x", "type": "quantitative", "axis": null},
            "y": {"field": "y", "type": "quantitative", "axis": null},
            "text": {"field": "text"}
          }
        }
      ],
      "resolve": {"axis": {"x": "independent", "y": "independent"}}
    }
  ]
}
